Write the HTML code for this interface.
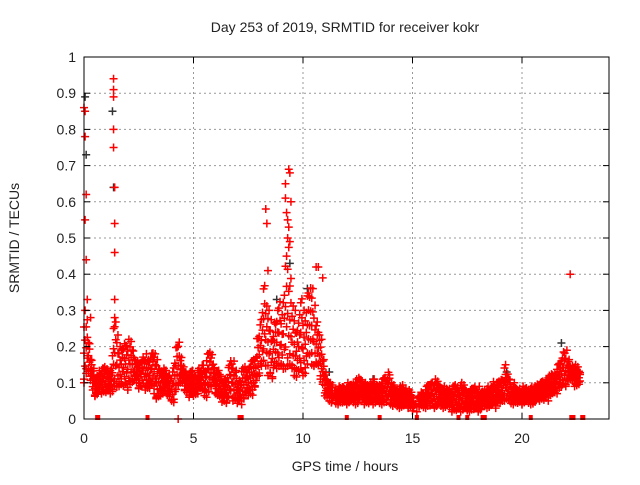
<!DOCTYPE html>
<html><head><meta charset="utf-8"><style>
body{margin:0;background:#fff;font-family:"Liberation Sans",sans-serif}
svg text{font-family:"Liberation Sans",sans-serif;fill:#222}
</style></head><body>
<svg id="c" width="640" height="480">
<g id="grid"></g>
<g id="marks"></g>
<rect x="84" y="57" width="525" height="362" fill="none" stroke="#000" stroke-width="1"/>
<g id="axes"></g>
<text x="345" y="32" text-anchor="middle" font-size="14">Day 253 of 2019, SRMTID for receiver kokr</text>
<text x="345" y="471" text-anchor="middle" font-size="14">GPS time / hours</text>
<text transform="translate(19,238) rotate(-90)" text-anchor="middle" font-size="14">SRMTID / TECUs</text>
</svg>
<script>
const xTicks=[0,5,10,15,20];
const yTicks=[0,0.1,0.2,0.3,0.4,0.5,0.6,0.7,0.8,0.9,1];
const yLabels=["0","0.1","0.2","0.3","0.4","0.5","0.6","0.7","0.8","0.9","1"];
const step=0.1;
const lo=[0.10,0.12,0.12,0.10,0.08,0.06,0.06,0.07,0.07,0.07,
0.07,0.07,0.07,0.07,0.08,0.08,0.09,0.09,0.08,0.08,
0.08,0.09,0.09,0.10,0.10,0.08,0.08,0.08,0.08,0.08,
0.08,0.08,0.07,0.05,0.05,0.06,0.07,0.07,0.06,0.05,
0.05,0.04,0.07,0.08,0.10,0.10,0.07,0.06,0.06,0.07,
0.06,0.06,0.07,0.08,0.07,0.06,0.06,0.07,0.08,0.09,
0.07,0.06,0.05,0.04,0.05,0.04,0.05,0.06,0.05,0.05,
0.04,0.04,0.04,0.05,0.06,0.06,0.07,0.06,0.08,0.10,
0.12,0.14,0.15,0.13,0.12,0.12,0.10,0.13,0.14,0.14,
0.14,0.12,0.14,0.14,0.14,0.13,0.12,0.11,0.12,0.12,
0.12,0.12,0.14,0.16,0.15,0.14,0.14,0.13,0.11,0.09,
0.06,0.05,0.05,0.04,0.05,0.04,0.04,0.04,0.04,0.04,
0.04,0.04,0.04,0.04,0.04,0.04,0.05,0.04,0.04,0.04,
0.04,0.04,0.04,0.04,0.04,0.04,0.04,0.04,0.04,0.05,
0.04,0.03,0.03,0.03,0.03,0.03,0.03,0.03,0.03,0.03,
0.02,0.02,0.02,0.03,0.03,0.03,0.03,0.03,0.03,0.03,
0.03,0.03,0.03,0.03,0.03,0.03,0.03,0.02,0.02,0.02,
0.02,0.02,0.02,0.02,0.02,0.02,0.02,0.02,0.02,0.02,
0.02,0.02,0.03,0.03,0.03,0.03,0.03,0.03,0.03,0.04,
0.04,0.04,0.05,0.05,0.04,0.04,0.04,0.04,0.04,0.04,
0.04,0.04,0.04,0.04,0.04,0.04,0.04,0.05,0.05,0.05,
0.05,0.05,0.05,0.06,0.06,0.07,0.07,0.08,0.08,0.08,
0.09,0.10,0.10,0.10,0.09,0.09,0.09];
const hi=[0.30,0.28,0.22,0.18,0.14,0.12,0.13,0.14,0.14,0.15,
0.15,0.14,0.14,0.20,0.28,0.25,0.20,0.20,0.22,0.22,
0.22,0.22,0.20,0.18,0.16,0.16,0.17,0.18,0.18,0.17,
0.18,0.20,0.18,0.17,0.15,0.15,0.14,0.14,0.13,0.13,
0.13,0.16,0.21,0.23,0.17,0.15,0.14,0.13,0.13,0.14,
0.13,0.13,0.14,0.14,0.16,0.15,0.18,0.19,0.19,0.16,
0.13,0.14,0.13,0.12,0.11,0.12,0.16,0.17,0.16,0.14,
0.11,0.12,0.14,0.15,0.14,0.16,0.16,0.17,0.18,0.24,
0.26,0.30,0.38,0.33,0.30,0.28,0.24,0.28,0.30,0.33,
0.30,0.36,0.45,0.48,0.40,0.33,0.30,0.25,0.30,0.35,
0.30,0.30,0.36,0.38,0.36,0.32,0.28,0.25,0.22,0.17,
0.14,0.12,0.10,0.10,0.09,0.09,0.09,0.09,0.10,0.09,
0.10,0.10,0.10,0.11,0.11,0.12,0.12,0.11,0.10,0.10,
0.10,0.11,0.11,0.10,0.10,0.11,0.11,0.12,0.12,0.14,
0.10,0.10,0.09,0.09,0.09,0.10,0.09,0.09,0.08,0.08,
0.07,0.06,0.06,0.07,0.08,0.08,0.09,0.10,0.11,0.11,
0.11,0.11,0.10,0.10,0.09,0.09,0.09,0.09,0.09,0.10,
0.10,0.09,0.10,0.10,0.09,0.09,0.08,0.09,0.10,0.09,
0.09,0.08,0.08,0.09,0.09,0.09,0.10,0.11,0.10,0.11,
0.12,0.12,0.15,0.13,0.12,0.10,0.10,0.09,0.09,0.09,
0.09,0.09,0.09,0.09,0.09,0.09,0.10,0.10,0.10,0.11,
0.11,0.12,0.12,0.13,0.13,0.14,0.15,0.16,0.18,0.20,
0.19,0.17,0.15,0.16,0.15,0.15,0.14];
const outT=[0.0,0.05,0.05,0.1,0.05,0.1,0.15,0.3,1.35,1.35,1.35,1.35,1.35,1.4,1.4,1.4,1.4,1.35,1.4,8.3,8.35,8.4,9.2,9.2,9.3,9.35,9.4,9.45,9.4,9.3,9.25,9.35,10.6,10.7,10.9,22.2,4.3];
const outV=[0.86,0.85,0.78,0.62,0.55,0.44,0.33,0.28,0.94,0.91,0.89,0.80,0.75,0.64,0.54,0.46,0.33,0.25,0.28,0.58,0.54,0.41,0.65,0.61,0.55,0.69,0.68,0.60,0.49,0.50,0.57,0.53,0.42,0.42,0.39,0.40,0.0];
const blackT=[0.05,0.1,1.3,1.35,9.4,10.2,8.8,19.3,21.8,11.2,13.2];
const blackV=[0.89,0.73,0.85,0.64,0.43,0.36,0.33,0.13,0.21,0.13,0.11];
const zeroT=[0.6,0.65,22.25,22.3,22.35,22.75,22.8,2.9,7.1,7.2,12.0,13.5,15.2,17.1,17.5,18.2,18.3,20.4];
const fracs=[0.12,0.3,0.48,0.66,0.84];

const X=t=>84+t*21.9, Y=v=>419-v*362;
const NS="http://www.w3.org/2000/svg";
const grid=document.getElementById('grid'),axes=document.getElementById('axes'),marks=document.getElementById('marks');
function mk(tag,attrs,parent){const e=document.createElementNS(NS,tag);for(const k in attrs)e.setAttribute(k,attrs[k]);parent.appendChild(e);return e;}
yTicks.forEach((v,i)=>{
  if(v>0&&v<1){const g=mk('line',{x1:84,x2:609,y1:Y(v),y2:Y(v),stroke:'#999','stroke-dasharray':'2,3'},grid);
  
  }
  mk('line',{x1:84,x2:90,y1:Y(v),y2:Y(v),stroke:'#000'},axes);
  mk('line',{x1:603,x2:609,y1:Y(v),y2:Y(v),stroke:'#000'},axes);
  const t=mk('text',{x:76,y:Y(v)+5,'text-anchor':'end','font-size':14},axes);t.textContent=yLabels[i];
  
  
});
xTicks.forEach(v=>{
  if(v>0){const g=mk('line',{x1:X(v),x2:X(v),y1:57,y2:419,stroke:'#999','stroke-dasharray':'2,3'},grid);
  
  }
  mk('line',{x1:X(v),x2:X(v),y1:419,y2:413,stroke:'#000'},axes);
  mk('line',{x1:X(v),x2:X(v),y1:57,y2:63,stroke:'#000'},axes);
  const t=mk('text',{x:X(v),y:443,'text-anchor':'middle','font-size':14},axes);t.textContent=String(v);
  
  
});
function cross(t,v,col){
  const x=X(t),y=Y(v);
  const p=mk('path',{d:`M${x-4},${y}h8M${x},${y-4}v8`,stroke:col,'stroke-width':1.5,fill:'none'},marks);
  
  
}
blackT.forEach((t,i)=>cross(t,blackV[i],'#333'));
lo.forEach((l,i)=>{
  const t=i*step,h=hi[i];
  const e=(i%4)*0.006;
  cross(t,l+e,'#f00');cross(t+0.05,h-e,'#f00');
  const sh=((i*7)%5)*0.035;
  fracs.forEach((f,j)=>{if(h-l>0.04)cross(t+(j%2)*0.05,l+(h-l)*(f+sh-0.07),'#f00');});
});
outT.forEach((t,i)=>cross(t,outV[i],'#f00'));
zeroT.forEach(t=>{
  const r=mk('rect',{x:X(t)-2,y:415,width:4,height:5,fill:'#f00'},marks);
  
  
});
</script>
</body></html>
